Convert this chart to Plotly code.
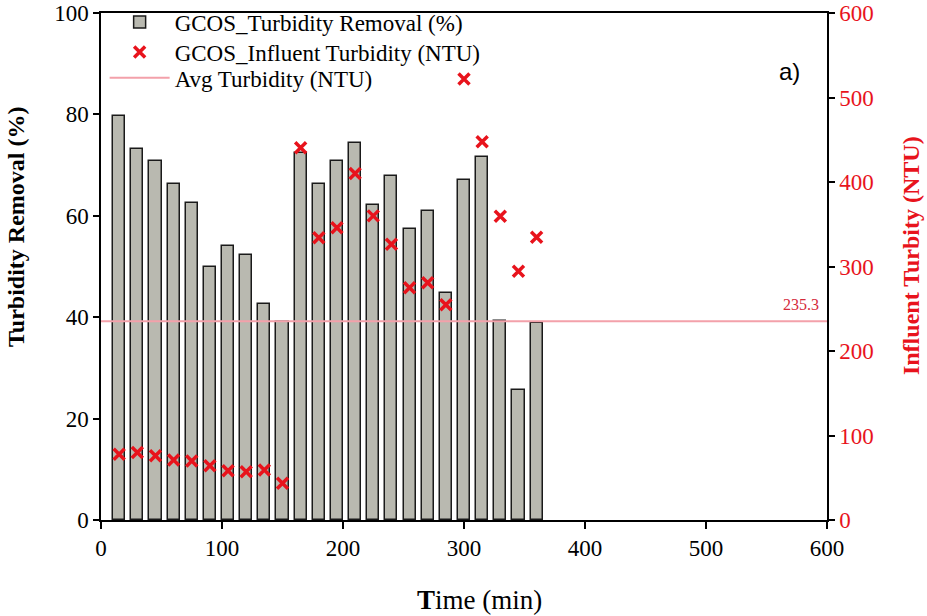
import plotly.graph_objects as go

time_min = [15, 30, 45, 60, 75, 90, 105, 120, 135, 150, 165, 180,
            195, 210, 225, 240, 255, 270, 285, 300, 315, 330, 345, 360]
removal_pct = [79.6, 73.1, 70.8, 66.2, 62.6, 49.9, 54.1, 52.3, 42.7, 39.0, 72.3, 66.2,
               70.8, 74.3, 62.2, 67.8, 57.4, 61.0, 44.7, 67.0, 71.6, 39.2, 25.7, 38.8]
influent_ntu = [77.7, 80.0, 76.1, 71.0, 69.8, 64.3, 58.3, 57.2, 59.1, 43.4, 440.4, 333.9,
                345.8, 410.0, 359.9, 326.4, 274.8, 280.7, 254.7, 522.0, 447.5, 359.5, 294.5, 334.7]
avg_ntu = 235.3
x_range = [0, 600]
left_ticks = [0, 20, 40, 60, 80, 100]
right_ticks = [0, 100, 200, 300, 400, 500, 600]
x_ticks = [0, 100, 200, 300, 400, 500, 600]

SERIF = "Liberation Serif, Times New Roman, serif"
RED = "#e8131c"

fig = go.Figure()
fig.add_trace(go.Bar(
    x=time_min, y=removal_pct, width=10,
    name="GCOS_Turbidity Removal (%)",
    marker=dict(color="#b9b9b0", line=dict(color="#1a1a1a", width=1.5)),
    yaxis="y", legend="legend",
))
fig.add_trace(go.Scatter(
    x=time_min, y=influent_ntu, mode="markers",
    name="GCOS_Influent Turbidity (NTU)",
    marker=dict(symbol="x-thin", size=11, color=RED, line=dict(color=RED, width=3.5)),
    yaxis="y2", legend="legend2",
))
fig.add_trace(go.Scatter(
    x=x_range, y=[avg_ntu, avg_ntu], mode="lines",
    name="Avg Turbidity (NTU)",
    line=dict(color="#f3a1aa", width=2),
    yaxis="y2", legend="legend3",
))

fig.add_annotation(
    x=x_range[1], y=avg_ntu, xref="x", yref="y2", text=f"{avg_ntu}",
    showarrow=False, xanchor="right", yanchor="bottom", xshift=-6, yshift=6,
    font=dict(family=SERIF, size=16, color="#d42a3a"),
)
fig.add_annotation(
    x=0.949, y=0.884, xref="paper", yref="paper", text="a)", showarrow=False,
    xanchor="center", yanchor="middle",
    font=dict(family="Liberation Sans, Arial, sans-serif", size=24, color="black"),
)
# axis titles
fig.add_annotation(
    x=0.522, y=-0.158, xref="paper", yref="paper", text="<b>T</b>ime (min)",
    showarrow=False, xanchor="center", yanchor="middle",
    font=dict(family=SERIF, size=27, color="black"),
)
fig.add_annotation(
    x=-0.117, y=0.578, xref="paper", yref="paper", text="<b>Turbidity Removal (%)</b>",
    showarrow=False, xanchor="center", yanchor="middle", textangle=-90,
    font=dict(family=SERIF, size=24, color="black"),
)
fig.add_annotation(
    x=1.116, y=0.521, xref="paper", yref="paper", text="<b>Influent Turbity (NTU)</b>",
    showarrow=False, xanchor="center", yanchor="middle", textangle=-90,
    font=dict(family=SERIF, size=24, color=RED),
)

leg_common = dict(
    x=0.005, xanchor="left", yanchor="middle",
    bgcolor="rgba(0,0,0,0)", font=dict(family=SERIF, size=23, color="black"),
    itemwidth=60,
)

fig.update_layout(
    width=927, height=616,
    margin=dict(l=101, r=100, t=13, b=96, autoexpand=False),
    plot_bgcolor="white", paper_bgcolor="white",
    font=dict(family=SERIF, size=21, color="black"),
    showlegend=True,
    legend=dict(y=0.982, **leg_common),
    legend2=dict(y=0.923, **leg_common),
    legend3=dict(y=0.872, **leg_common),
    bargap=0,
    xaxis=dict(
        range=x_range, tickvals=x_ticks, ticks="outside", ticklen=7, tickwidth=1.5,
        tickcolor="black", showline=True, linecolor="black", linewidth=1.5,
        mirror=True, showgrid=False, zeroline=False, automargin=False,
        tickfont=dict(family=SERIF, size=23, color="black"),
    ),
    yaxis=dict(
        range=[0, 100], tickvals=left_ticks, ticks="outside", ticklen=6, tickwidth=1.5,
        tickcolor="black", showline=True, linecolor="black", linewidth=1.5,
        showgrid=False, zeroline=False, automargin=False,
        tickfont=dict(family=SERIF, size=23, color="black"),
    ),
    yaxis2=dict(
        range=[0, 600], tickvals=right_ticks, ticks="outside", ticklen=6, tickwidth=1.5,
        tickcolor="black", showline=True, linecolor="black", linewidth=1.5,
        overlaying="y", side="right", showgrid=False, zeroline=False, automargin=False,
        tickfont=dict(family=SERIF, size=23, color=RED),
    ),
)

fig.write_html("out.html", config={"displayModeBar": False},
               post_script="document.body.style.margin='0';")
